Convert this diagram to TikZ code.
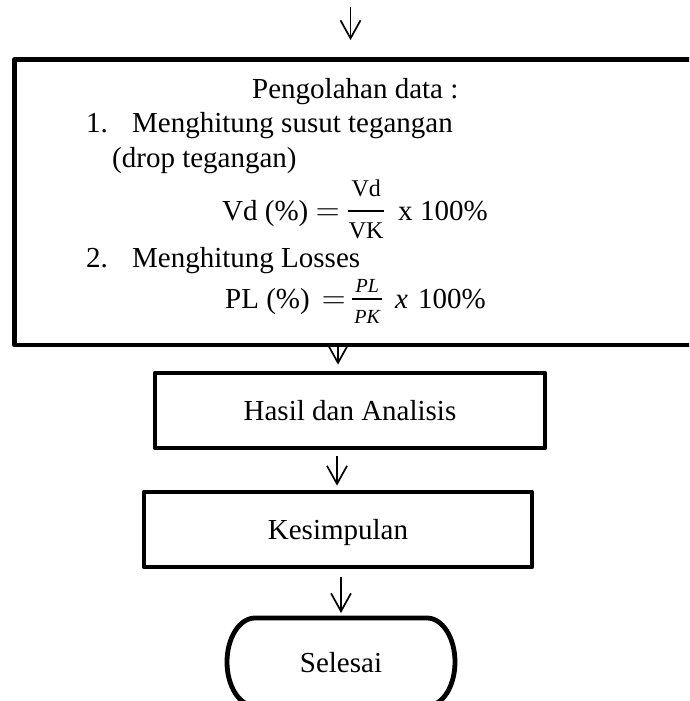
\RequirePackage{fix-cm}
\documentclass[tikz,border=0pt]{standalone}
\usepackage{amsmath}
\usepackage{graphicx}
\usepackage{fontspec}
\setmainfont{Liberation Serif}
\usetikzlibrary{arrows.meta}
% fraction: #1 width, #2 numerator raise, #3 denominator drop, #4 numerator, #5 denominator
\newcommand\myfrac[5]{\hbox to #1{\rlap{\raisebox{#2}{\makebox[#1]{#4}}}\rlap{\raisebox{-#3}{\makebox[#1]{#5}}}\rlap{\rule[8.2pt]{#1}{1.8pt}}\hss}}
\newcommand\myeq{{\fontsize{33}{33}\selectfont$=$}}
\tikzset{
  box/.style={draw, line width=4.8pt, rectangle, line join=round, inner sep=0pt,
    text height=20pt, text depth=0pt, font=\fontsize{29}{34}\selectfont},
  lbl/.style={anchor=base west, inner sep=0pt, font=\fontsize{29}{34}\selectfont},
  flow/.style={line width=1.7pt, -{Straight Barb[length=18pt,width=20pt,line width=1.7pt]}},
  outline/.style={line width=4.8pt, line join=round},
}
\begin{document}
\begin{tikzpicture}[x=1pt,y=-1pt]
\useasboundingbox (0,0) rectangle (689,701);
\clip (0,0) rectangle (689,701);
% big processing box (right side runs off the picture)
\node[box, minimum width=705pt, minimum height=285.5pt] (proc) at (367,202.25) {};
\node[lbl] (t0) at (252,98) {Pengolahan data :};
\node[lbl] (n1) at (86,132) {1.};
\node[lbl] (t1) at (132,132) {Menghitung susut tegangan};
\node[lbl] (t2) at (112,167) {(drop tegangan)};
\node[lbl] (f1) at (222,220) {\makebox[93pt][l]{Vd (\%)}\makebox[25pt]{\myeq}\kern8pt\myfrac{36pt}{24pt}{18pt}{\fontsize{24}{24}\selectfont Vd}{\fontsize{24}{24}\selectfont VK}\kern14pt\makebox[22pt][l]{x}100\%};
\node[lbl] (n2) at (86,267) {2.};
\node[lbl] (t3) at (132,267) {Menghitung Losses};
\node[lbl] (f2) at (225,308) {\makebox[97pt][l]{PL (\%)}\makebox[23pt]{\myeq}\kern7pt\myfrac{30pt}{16pt}{15pt}{\fontsize{20}{20}\selectfont\itshape PL}{\fontsize{20}{20}\selectfont\itshape PK}\kern13pt\makebox[23pt][l]{\itshape x}100\%};
% other boxes
\node[box, minimum width=390pt, minimum height=75pt] (hasil) at (350,410.5) {Hasil dan Analisis};
\node[box, minimum width=388pt, minimum height=75pt] (kes) at (338,529.5) {Kesimpulan};
\node[box, draw=none, outer sep=0pt, minimum width=228pt, minimum height=88pt] (sel) at (341,662) {Selesai};
\draw[outline] ([xshift=28pt]sel.north west) -- ([xshift=-28pt]sel.north east)
  arc[start angle=90, end angle=-90, x radius=28pt, y radius=44pt]
  -- ([xshift=28pt]sel.south west)
  arc[start angle=270, end angle=90, x radius=28pt, y radius=44pt] -- cycle;
% connectors
\coordinate (start) at (350.5,7);
\draw[flow, shorten >=17pt] (start) -- (proc.north -| start);
\draw[flow, shorten >=6pt] ([xshift=-12pt]hasil.north |- proc.south) -- ([xshift=-12pt]hasil.north);
\draw[flow, shorten <=6pt, shorten >=4pt] ([xshift=-1pt]kes.north |- hasil.south) -- ([xshift=-1pt]kes.north);
\draw[flow, shorten <=8pt, shorten >=5pt] (sel.north |- kes.south) -- (sel.north);
\end{tikzpicture}
\end{document}
